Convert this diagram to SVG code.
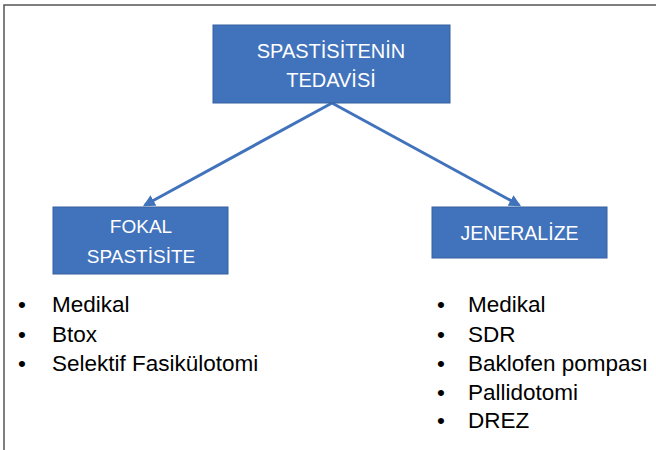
<svg xmlns="http://www.w3.org/2000/svg" width="656" height="450" viewBox="0 0 656 450">
<style>
.box{fill:#4172BC;stroke:#36609F;stroke-width:1}
.bt{font-family:"Liberation Sans",Arial,sans-serif;fill:#ffffff;text-anchor:middle}
.lt{font-family:"Liberation Sans",Arial,sans-serif;fill:#000000;font-size:22.5px}
.con{stroke:#4172BC;stroke-width:3;fill:none}
</style>
<defs>
<marker id="ah" markerWidth="4" markerHeight="4" refX="3.2" refY="2" orient="auto" markerUnits="strokeWidth">
<path d="M0,0 L4,2 L0,4 Z" fill="#4172BC"/>
</marker>
</defs>
<rect x="4" y="5" width="700" height="500" fill="#ffffff" stroke="#555555" stroke-width="1.5"/>
<g id="connectors">
<line class="con" x1="332" y1="103" x2="145" y2="205" marker-end="url(#ah)"/>
<line class="con" x1="332" y1="103" x2="519" y2="205" marker-end="url(#ah)"/>
</g>
<g id="node-root">
<rect class="box" x="213" y="25" width="237" height="78"/>
<text class="bt" x="331" y="57.5" font-size="20">SPASTİSİTENİN</text>
<text class="bt" x="331" y="86.5" font-size="20">TEDAVİSİ</text>
</g>
<g id="node-fokal">
<rect class="box" x="53" y="207" width="175" height="67"/>
<text class="bt" x="141" y="233" font-size="19">FOKAL</text>
<text class="bt" x="141" y="263" font-size="19">SPASTİSİTE</text>
</g>
<g id="node-jeneralize">
<rect class="box" x="432" y="207" width="175" height="51"/>
<text class="bt" x="519.5" y="240" font-size="19.5">JENERALİZE</text>
</g>
<g id="list-fokal" class="lt">
<text x="18" y="312">•</text><text x="52" y="312">Medikal</text>
<text x="18" y="342">•</text><text x="52" y="342">Btox</text>
<text x="18" y="371">•</text><text x="52" y="371">Selektif Fasikülotomi</text>
</g>
<g id="list-jeneralize" class="lt">
<text x="437" y="312">•</text><text x="468" y="312">Medikal</text>
<text x="437" y="342">•</text><text x="468" y="342">SDR</text>
<text x="437" y="371">•</text><text x="468" y="371">Baklofen pompası</text>
<text x="437" y="400">•</text><text x="468" y="400">Pallidotomi</text>
<text x="437" y="428">•</text><text x="468" y="428">DREZ</text>
</g>
</svg>
